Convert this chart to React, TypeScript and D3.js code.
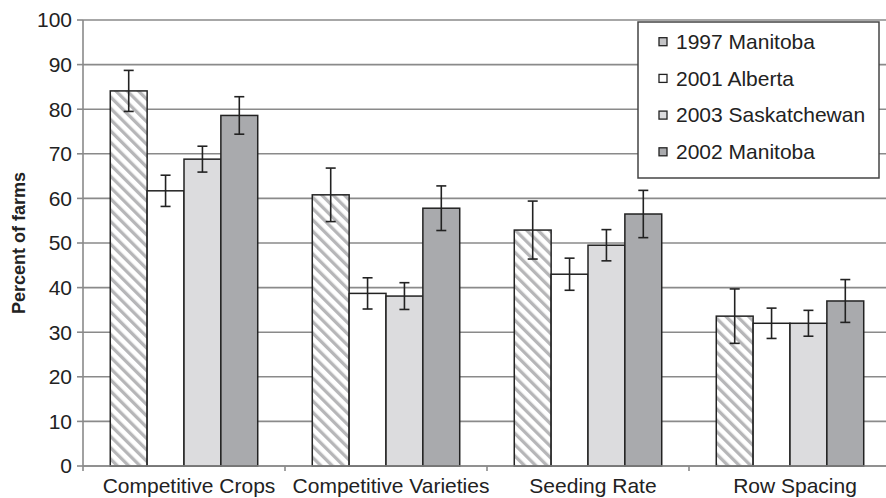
import React from "react";
import * as d3 from "d3";

const categories = ["Competitive Crops", "Competitive Varieties", "Seeding Rate", "Row Spacing"];
const seriesNames = ["1997 Manitoba", "2001 Alberta", "2003 Saskatchewan", "2002 Manitoba"];
const manitoba1997 = [84.1, 60.8, 52.9, 33.6];
const alberta2001 = [61.7, 38.7, 43.0, 32.0];
const saskatchewan2003 = [68.8, 38.1, 49.5, 32.0];
const manitoba2002 = [78.6, 57.8, 56.5, 37.0];
const err1997 = [4.6, 6.0, 6.5, 6.1];
const err2001 = [3.5, 3.5, 3.6, 3.4];
const err2003 = [2.9, 3.0, 3.5, 2.9];
const err2002 = [4.2, 5.0, 5.3, 4.8];
const yTicks = [0, 10, 20, 30, 40, 50, 60, 70, 80, 90, 100];

const W = 886;
const H = 498;
const margin = { left: 83, right: -5, top: 20, bottom: 32 };

export default function App() {
  const values = [manitoba1997, alberta2001, saskatchewan2003, manitoba2002];
  const errors = [err1997, err2001, err2003, err2002];
  const fills = ["url(#hatch)", "#ffffff", "#dcdcde", "#a9aaad"];

  const x0 = d3
    .scaleBand<string>()
    .domain(categories)
    .range([margin.left, W - margin.right])
    .paddingInner(0)
    .paddingOuter(0);
  const inner = 0.73;
  const x1 = d3
    .scaleBand<string>()
    .domain(seriesNames)
    .range([0, x0.bandwidth() * inner]);
  const groupOffset = (x0.bandwidth() * (1 - inner)) / 2;
  const y = d3.scaleLinear().domain([0, 100]).range([H - margin.bottom, margin.top]);

  const font = "'Liberation Sans', Arial, sans-serif";
  const x0Right = W - margin.right;
  const fs = 21;

  return (
    <svg
      width={W}
      height={H}
      style={{ position: "absolute", left: 0, top: 0, background: "#fff" }}
      fontFamily={font}
    >
      <defs>
        <pattern id="hatch" patternUnits="userSpaceOnUse" width="8" height="8" patternTransform="rotate(-45)">
          <rect width="8" height="8" fill="#ffffff" />
          <rect x="0" y="0" width="3.3" height="8" fill="#b6b6b8" />
        </pattern>
      </defs>

      {/* gridlines */}
      {yTicks.map((t) => (
        <line key={"g" + t} x1={margin.left} x2={x0Right} y1={y(t)} y2={y(t)} stroke="#8a8a8a" strokeWidth={1.6} />
      ))}

      {/* y axis */}
      <line x1={margin.left} x2={margin.left} y1={y(0)} y2={y(100)} stroke="#8a8a8a" strokeWidth={1.6} />
      {yTicks.map((t) => (
        <g key={"yt" + t}>
          <line x1={margin.left - 6} x2={margin.left} y1={y(t)} y2={y(t)} stroke="#8a8a8a" strokeWidth={1.6} />
          <text x={margin.left - 11} y={y(t)} dy="0.35em" textAnchor="end" fontSize={fs} fill="#222">
            {t}
          </text>
        </g>
      ))}

      {/* x axis ticks between categories */}
      {categories.map((c) => (
        <line key={"xt" + c} x1={x0(c)!} x2={x0(c)!} y1={y(0)} y2={y(0) + 5} stroke="#8a8a8a" strokeWidth={1.6} />
      ))}

      {/* bars */}
      {categories.map((c, ci) =>
        seriesNames.map((s, si) => {
          const bx = x0(c)! + groupOffset + x1(s)!;
          const v = values[si][ci];
          return (
            <rect
              key={c + s}
              x={bx}
              y={y(v)}
              width={x1.bandwidth()}
              height={y(0) - y(v)}
              fill={fills[si]}
              stroke="#222"
              strokeWidth={1.5}
            />
          );
        })
      )}

      {/* error bars */}
      {categories.map((c, ci) =>
        seriesNames.map((s, si) => {
          const cx = x0(c)! + groupOffset + x1(s)! + x1.bandwidth() / 2;
          const v = values[si][ci];
          const e = errors[si][ci];
          return (
            <g key={"e" + c + s} stroke="#222" strokeWidth={1.6}>
              <line x1={cx} x2={cx} y1={y(v + e)} y2={y(v - e)} />
              <line x1={cx - 5} x2={cx + 5} y1={y(v + e)} y2={y(v + e)} />
              <line x1={cx - 5} x2={cx + 5} y1={y(v - e)} y2={y(v - e)} />
            </g>
          );
        })
      )}

      {/* x axis baseline */}
      <line x1={margin.left} x2={x0Right} y1={y(0)} y2={y(0)} stroke="#8a8a8a" strokeWidth={1.6} />

      {/* category labels */}
      {categories.map((c) => (
        <text key={"xl" + c} x={x0(c)! + x0.bandwidth() / 2 + 5} y={H - 5} textAnchor="middle" fontSize={fs} fill="#222">
          {c}
        </text>
      ))}

      {/* y axis title */}
      <text
        transform={`translate(25, ${(y(0) + y(100)) / 2}) rotate(-90)`}
        textAnchor="middle"
        fontSize={18}
        fontWeight="bold"
        fill="#222"
      >
        Percent of farms
      </text>

      {/* legend */}
      <g>
        <rect x={638} y={22} width={241} height={156} fill="#fff" stroke="#444" strokeWidth={1.5} />
        {seriesNames.map((s, i) => {
          const ly = 41.7 + i * 36.7;
          return (
            <g key={"lg" + s}>
              <rect x={659} y={ly - 4} width={8} height={8} fill={i === 0 ? "#c4c4c6" : fills[i]} stroke="#222" strokeWidth={1.3} />
              <text x={676} y={ly} dy="0.35em" fontSize={fs} fill="#222">
                {s}
              </text>
            </g>
          );
        })}
      </g>
    </svg>
  );
}
